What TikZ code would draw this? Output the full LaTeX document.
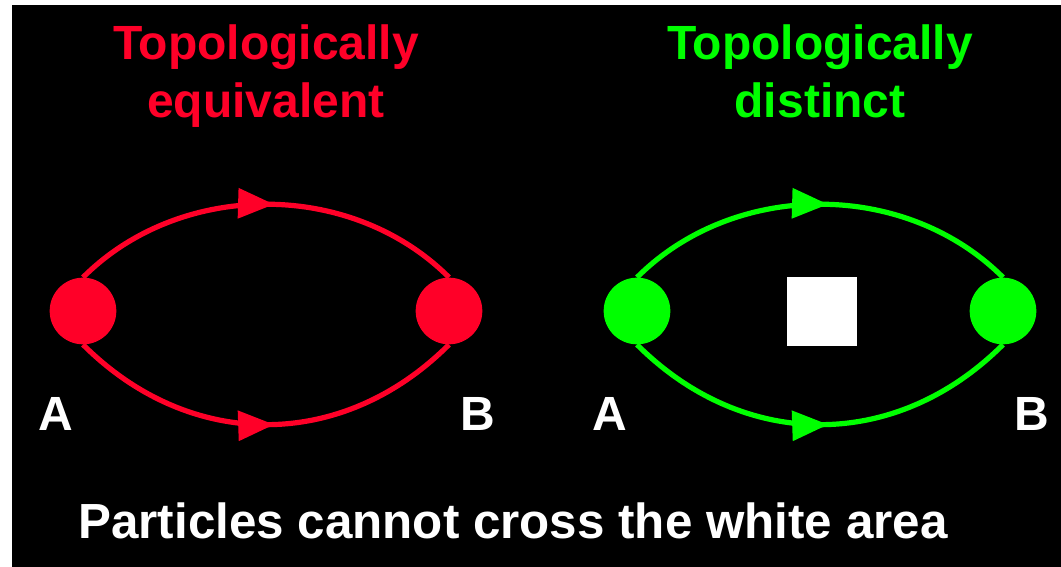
\documentclass[tikz,border=0pt]{standalone}
\usepackage{fontspec}
\setmainfont{Liberation Sans}
\usetikzlibrary{arrows.meta,positioning,decorations.markings}
\definecolor{topored}{HTML}{FF0028}
\definecolor{topogreen}{HTML}{00FF00}
\tikzset{
  dot/.style={circle,fill=#1,draw=none,minimum size=50pt,inner sep=0pt},
  headline/.style={text=#1,align=center,font=\fontsize{36}{43.5}\selectfont\bfseries,
                   inner sep=0pt,anchor=north},
  endlabel/.style={text=white,font=\fontsize{36}{43}\selectfont\bfseries,
                   inner sep=0pt,anchor=base},
  worldline/.style={draw=#1,line width=3.9pt,postaction={decorate},
                    decoration={markings,mark=at position 0.52 with
                      {\arrow{Triangle[length=27pt,width=22pt]}}}},
  barrier/.style={fill=white,minimum size=52pt,inner sep=0pt}
}

\begin{document}
\begin{tikzpicture}[x=0.75pt,y=0.75pt]
  % white margin on the left and on top, black field
  \fill[white] (0,0) rectangle (1061,567);
  \fill[black] (12,0) rectangle (1061,562);
  \foreach \side/\dx/\col/\lineone/\linetwo in
      {l/0/topored/Topologically/equivalent,r/554/topogreen/Topologically/distinct} {
    \begin{scope}[shift={(\dx,0)}]
      \node[headline=\col] (\side title) at (266,543) {\lineone\\\linetwo};
      \node[dot=\col] (\side A) at (83,256) {};
      \node[dot=\col] (\side B) at (449,256) {};
      \node[endlabel] (\side Alab) at (56,136) {A};
      \node[endlabel] (\side Blab) at (478,136) {B};
      % two paths from A to B
      \draw[worldline=\col] (\side A.north) .. controls +(45:138) and +(135:138) .. (\side B.north);
      \draw[worldline=\col] (\side A.south) .. controls +(-45:151) and +(-135:151) .. (\side B.south);
    \end{scope}
  }
  \node[barrier] (hole) at (822,255.5) {};
  \node[endlabel,font=\fontsize{37}{43}\selectfont\bfseries] (note) at (513,28)
    {Particles cannot cross the white area};
\end{tikzpicture}
\end{document}
